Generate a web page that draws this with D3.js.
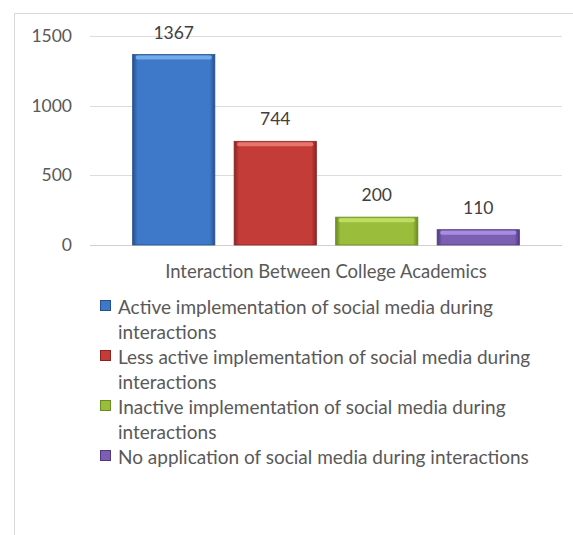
<!DOCTYPE html>
<html>
<head>
<meta charset="utf-8">
<script src="https://cdn.jsdelivr.net/npm/d3@7"></script>
<style>
  body { margin: 0; background: #fff; }
  svg { display: block; }
</style>
</head>
<body>
<div class="chart"></div>
<script>
const width = 573;
const height = 535;

// data
const categoria = "Interaction Between College Academics";
const series = [
    "Active implementation of social media during interactions",
    "Less active implementation of social media during interactions",
    "Inactive implementation of social media during interactions",
    "No application of social media during interactions"
];
const valores = [1367, 744, 200, 110];
const ticksY = [0, 500, 1000, 1500];

const colores = ["#3d79c8", "#c43c38", "#9abd3b", "#7c5eb3"];
const coloresClaros = ["#78b0ec", "#ec7a74", "#c4e068", "#ab92e6"];
const coloresOscuros = ["#26508a", "#8a2421", "#6a8a22", "#4f3a80"];

const fuente = "Lato, 'Open Sans', sans-serif";
const gris = "#595959";

const svg = d3.select(".chart")
              .append("svg")
              .attr("width", width)
              .attr("height", height);

// marco del grafico
svg.append("path")
   .attr("d", `M14.5,${height} V13.5 H${width}`)
   .attr("fill", "none")
   .attr("stroke", "#d9d9d9")
   .attr("stroke-width", 1);

const escalaY = d3.scaleLinear()
                  .domain([0, 1500])
                  .range([245, 36]);

const escalaX = d3.scaleBand()
                  .domain(series)
                  .range([90, 562])
                  .paddingInner(0.19)
                  .paddingOuter(0.42);

// gradientes horizontales para el efecto bisel
const defs = svg.append("defs");
series.forEach((s, i) => {
    const g = defs.append("linearGradient")
                  .attr("id", "grad" + i)
                  .attr("x1", 0).attr("x2", 1)
                  .attr("y1", 0).attr("y2", 0);
    g.append("stop").attr("offset", "0%").attr("stop-color", coloresOscuros[i]);
    g.append("stop").attr("offset", "6%").attr("stop-color", colores[i]);
    g.append("stop").attr("offset", "94%").attr("stop-color", colores[i]);
    g.append("stop").attr("offset", "100%").attr("stop-color", coloresOscuros[i]);
});

// grilla + eje y
const ejeY = d3.axisLeft(escalaY)
               .tickValues(ticksY)
               .tickFormat(d3.format("d"))
               .tickSize(0)
               .tickPadding(18);

const contenedorEjeY = svg.append("g")
                          .attr("transform", "translate(90,0)")
                          .call(ejeY);
contenedorEjeY.select(".domain").remove();
contenedorEjeY.selectAll("text")
              .attr("fill", gris)
              .attr("font-family", fuente)
              .attr("font-size", 17.5);

svg.append("g")
   .selectAll("line")
   .data(ticksY)
   .join("line")
   .attr("x1", 90)
   .attr("x2", 562)
   .attr("y1", (d) => Math.round(escalaY(d)) + 0.5)
   .attr("y2", (d) => Math.round(escalaY(d)) + 0.5)
   .attr("stroke", (d) => d === 0 ? "#d0d0d0" : "#dcdcdc")
   .attr("stroke-width", 1);

// barras
const barras = svg.append("g")
                  .selectAll("g")
                  .data(valores)
                  .join("g");

barras.append("rect")
      .attr("x", (d, i) => escalaX(series[i]))
      .attr("y", (d) => escalaY(d))
      .attr("width", escalaX.bandwidth())
      .attr("height", (d) => escalaY(0) - escalaY(d))
      .attr("fill", (d, i) => `url(#grad${i})`)
      .attr("stroke", (d, i) => coloresOscuros[i])
      .attr("stroke-width", 0.8);

// brillo superior
barras.append("rect")
      .attr("x", (d, i) => escalaX(series[i]) + 3)
      .attr("y", (d) => escalaY(d) + 1)
      .attr("width", escalaX.bandwidth() - 6)
      .attr("height", 4)
      .attr("rx", 2)
      .attr("fill", (d, i) => coloresClaros[i])
      .attr("opacity", 0.9);

// etiquetas de valor
barras.append("text")
      .attr("x", (d, i) => escalaX(series[i]) + escalaX.bandwidth() / 2)
      .attr("y", (d) => escalaY(d) - 16)
      .attr("text-anchor", "middle")
      .attr("fill", "#404040")
      .attr("font-family", fuente)
      .attr("font-size", 17.5)
      .text((d) => d);

// titulo de categoria
svg.append("text")
   .attr("x", (90 + 562) / 2)
   .attr("y", 278)
   .attr("text-anchor", "middle")
   .attr("fill", gris)
   .attr("font-family", fuente)
   .attr("font-size", 18.5)
   .text(categoria);

// leyenda
const leyenda = svg.append("g");
let linea = 0;
const altoLinea = 25;
const anchoMax = 440;

series.forEach((s, i) => {
    const yBase = 314 + linea * altoLinea;
    leyenda.append("rect")
           .attr("x", 100.5)
           .attr("y", yBase - 13.5)
           .attr("width", 10)
           .attr("height", 10)
           .attr("fill", colores[i])
           .attr("stroke", coloresOscuros[i])
           .attr("stroke-width", 1);

    const texto = leyenda.append("text")
                         .attr("font-family", fuente)
                         .attr("font-size", 19)
                         .attr("fill", gris);

    // partir el texto en lineas
    const palabras = s.split(" ");
    let actual = [];
    let tspan = texto.append("tspan").attr("x", 118).attr("y", yBase);
    palabras.forEach((p) => {
        actual.push(p);
        tspan.text(actual.join(" "));
        if (tspan.node().getComputedTextLength() > anchoMax && actual.length > 1) {
            actual.pop();
            tspan.text(actual.join(" "));
            actual = [p];
            linea++;
            tspan = texto.append("tspan")
                         .attr("x", 118)
                         .attr("y", 314 + linea * altoLinea)
                         .text(p);
        }
    });
    linea++;
});
</script>
</body>
</html>
